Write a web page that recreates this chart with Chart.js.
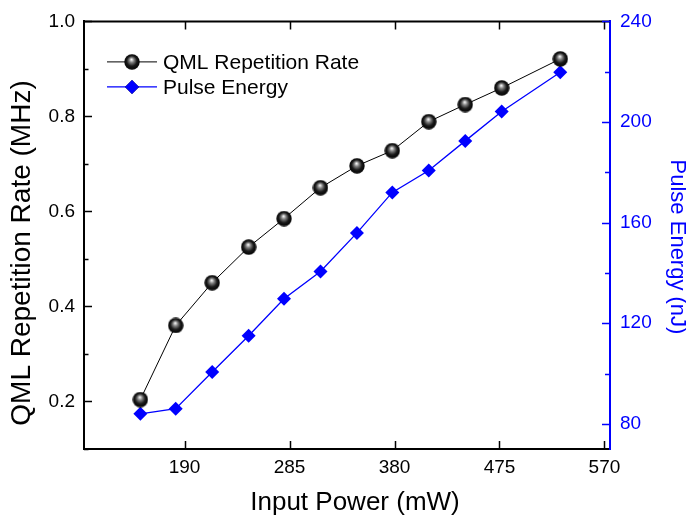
<!DOCTYPE html>
<html>
<head>
<meta charset="utf-8">
<title>QML repetition rate and pulse energy</title>
<script src="https://cdn.jsdelivr.net/npm/chart.js@4.4.1/dist/chart.umd.min.js"></script>
<style>
    html, body { margin: 0; padding: 0; background: #fff; }
    #wrap { width: 686px; height: 516px; }
</style>
</head>
<body>
<div id="wrap"><canvas id="qmlChart"></canvas></div>
<script>
// Values
const inputPower = [150, 182, 215, 248, 280, 313, 346, 378, 411, 444, 477, 530];
const repRate = [0.204, 0.360, 0.450, 0.525, 0.585, 0.650, 0.696, 0.728, 0.789, 0.825, 0.860, 0.921];
const pulseEnergy = [84.0, 86.0, 100.6, 115.0, 129.7, 140.6, 155.9, 172.0, 180.7, 192.5, 204.2, 219.8];

// Tick labels
const powerTicks = [190, 285, 380, 475, 570];
const rateTicks = [0.2, 0.4, 0.6, 0.8, 1.0];
const rateMinor = [0.1, 0.3, 0.5, 0.7, 0.9];
const energyTicks = [80, 120, 160, 200, 240];
const energyMinor = [100, 140, 180, 220];

const FONT = "'Liberation Sans', Arial, sans-serif";
const BLUE = "#0000ff";

// Shaded black ball used as the point marker
function makeSphere(r) {
    const c = document.createElement("canvas");
    c.width = c.height = r * 2;
    const g = c.getContext("2d");
    const grad = g.createRadialGradient(r - 0.5, r - 2.5, 0.3, r, r, r);
    grad.addColorStop(0, "#f8f8f8");
    grad.addColorStop(0.28, "#808080");
    grad.addColorStop(0.62, "#1a1a1a");
    grad.addColorStop(1, "#000");
    g.fillStyle = grad;
    g.beginPath();
    g.arc(r, r, r - 0.3, 0, Math.PI * 2);
    g.fill();
    return c;
}
const sphere = makeSphere(8);

function setTicks(values) {
    return scale => { scale.ticks = values.map(v => ({ value: v })); };
}

// Inward ticks, top frame line, axis titles and the legend (Origin style)
const originFrame = {
    id: "originFrame",
    afterDraw(chart) {
        const ctx = chart.ctx;
        const { left, right, top, bottom } = chart.chartArea;
        const sx = chart.scales.x, sy = chart.scales.y, sy1 = chart.scales.y1;

        ctx.save();
        // top frame line
        ctx.strokeStyle = "#000";
        ctx.lineWidth = 2;
        ctx.beginPath();
        ctx.moveTo(left - 1, top);
        ctx.lineTo(right, top);
        ctx.stroke();

        ctx.lineWidth = 1.5;
        ctx.beginPath();
        powerTicks.forEach(v => {
            const px = Math.round(sx.getPixelForValue(v)) + 0.5;
            ctx.moveTo(px, bottom); ctx.lineTo(px, bottom - 8);
            ctx.moveTo(px, top); ctx.lineTo(px, top + 8);
        });
        rateTicks.forEach(v => {
            const py = Math.round(sy.getPixelForValue(v)) + 0.5;
            ctx.moveTo(left, py); ctx.lineTo(left + 8, py);
        });
        rateMinor.forEach(v => {
            const py = Math.round(sy.getPixelForValue(v)) + 0.5;
            ctx.moveTo(left, py); ctx.lineTo(left + 4.5, py);
        });
        ctx.stroke();

        ctx.strokeStyle = BLUE;
        ctx.beginPath();
        energyTicks.forEach(v => {
            const py = Math.round(sy1.getPixelForValue(v)) + 0.5;
            ctx.moveTo(right, py); ctx.lineTo(right - 8, py);
        });
        energyMinor.forEach(v => {
            const py = Math.round(sy1.getPixelForValue(v)) + 0.5;
            ctx.moveTo(right, py); ctx.lineTo(right - 5, py);
        });
        ctx.stroke();

        // axis titles
        ctx.textAlign = "center";
        ctx.textBaseline = "middle";
        ctx.fillStyle = "#000";
        ctx.font = "26px " + FONT;
        ctx.fillText("Input Power (mW)", 355, 503);

        ctx.save();
        ctx.translate(22, 253);
        ctx.rotate(-Math.PI / 2);
        ctx.font = "28px " + FONT;
        ctx.fillText("QML Repetition Rate (MHz)", 0, 0);
        ctx.restore();

        ctx.save();
        ctx.translate(677, 247);
        ctx.rotate(Math.PI / 2);
        ctx.fillStyle = BLUE;
        ctx.font = "22px " + FONT;
        ctx.fillText("Pulse Energy (nJ)", 0, 0);
        ctx.restore();

        // legend
        ctx.textAlign = "left";
        ctx.font = "21px " + FONT;
        chart.data.datasets.forEach((ds, i) => {
            const ly = top + 40.5 + i * 25;
            const lx = left + 23;
            ctx.strokeStyle = ds.borderColor;
            ctx.lineWidth = ds.borderWidth;
            ctx.beginPath();
            ctx.moveTo(lx, ly); ctx.lineTo(lx + 50, ly);
            ctx.stroke();
            Chart.helpers.drawPoint(ctx, {
                pointStyle: ds.pointStyle,
                radius: ds.pointRadius,
                rotation: 0,
                borderWidth: 0
            }, lx + 25, ly);
            ctx.fillStyle = ds.borderColor;
            ctx.fill();
            ctx.fillStyle = "#000";
            ctx.fillText(ds.label, lx + 56, ly + 1);
        });
        ctx.restore();
    }
};

const noGrid = { display: false, drawTicks: false, tickLength: 0 };

const ctx = document.getElementById("qmlChart").getContext("2d");
new Chart(ctx, {
    type: "line",
    data: {
        datasets: [
            {
                label: "QML Repetition Rate",
                data: inputPower.map((p, i) => ({ x: p, y: repRate[i] })),
                yAxisID: "y",
                borderColor: "#000",
                borderWidth: 1,
                pointStyle: sphere,
                pointRadius: 8,
                pointHoverRadius: 8
            },
            {
                label: "Pulse Energy",
                data: inputPower.map((p, i) => ({ x: p, y: pulseEnergy[i] })),
                yAxisID: "y1",
                borderColor: BLUE,
                borderWidth: 1.3,
                pointStyle: "rectRot",
                pointRadius: 7,
                pointHoverRadius: 7,
                pointBackgroundColor: BLUE,
                pointBorderWidth: 0
            }
        ]
    },
    options: {
        responsive: true,
        maintainAspectRatio: false,
        animation: false,
        layout: { padding: { top: 16, left: 0, right: 0, bottom: 0 } },
        plugins: {
            legend: { display: false },
            tooltip: { enabled: false }
        },
        scales: {
            x: {
                type: "linear",
                position: "bottom",
                min: 99,
                max: 575,
                afterBuildTicks: setTicks(powerTicks),
                afterFit: s => { s.height = 67; },
                grid: noGrid,
                border: { display: true, color: "#000", width: 2 },
                ticks: {
                    color: "#000",
                    font: { family: FONT, size: 19 },
                    padding: 7,
                    maxRotation: 0,
                    autoSkip: false
                }
            },
            y: {
                type: "linear",
                position: "left",
                min: 0.1,
                max: 1.0,
                afterBuildTicks: setTicks(rateTicks),
                afterFit: s => { s.width = 84; },
                grid: noGrid,
                border: { display: true, color: "#000", width: 2 },
                ticks: {
                    color: "#000",
                    font: { family: FONT, size: 19 },
                    padding: 9,
                    callback: v => v.toFixed(1)
                }
            },
            y1: {
                type: "linear",
                position: "right",
                min: 70,
                max: 240,
                afterBuildTicks: setTicks(energyTicks),
                afterFit: s => { s.width = 76; },
                grid: noGrid,
                border: { display: true, color: BLUE, width: 2 },
                ticks: {
                    color: BLUE,
                    font: { family: FONT, size: 19 },
                    padding: 10
                }
            }
        }
    },
    plugins: [originFrame]
});
</script>
</body>
</html>
